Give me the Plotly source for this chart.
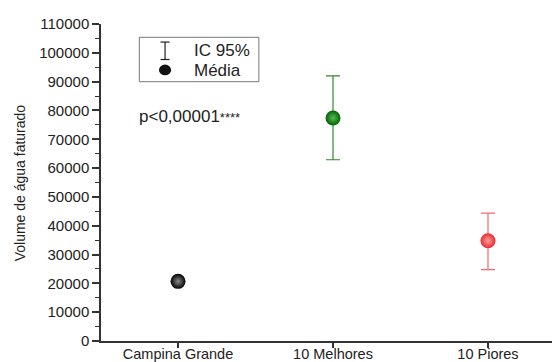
import plotly.graph_objects as go

categories = ["Campina Grande", "10 Melhores", "10 Piores"]
means = [20700, 77400, 34800]
upper = [None, 92000, 44400]
lower = [None, 62900, 24800]
center_colors = ["#8a8a8a", "#5ab85a", "#ffa0a0"]
edge_colors = ["#000000", "#006400", "#e82a30"]
bar_colors = ["#000000", "#2e8b2e", "#f06a6a"]
y_ticks = list(range(0, 110001, 10000))

FONT = "Liberation Sans, Arial, sans-serif"

fig = go.Figure()
for i, cat in enumerate(categories):
    err = None
    if upper[i] is not None:
        err = dict(type="data", symmetric=False,
                   array=[upper[i] - means[i]], arrayminus=[means[i] - lower[i]],
                   color=bar_colors[i], thickness=1.2, width=7)
    fig.add_trace(go.Scatter(
        x=[i], y=[means[i]], mode="markers",
        marker=dict(size=15, color=edge_colors[i],
                    gradient=dict(type="radial", color=center_colors[i]),
                    line=dict(width=0)),
        error_y=err, showlegend=False, hoverinfo="skip"))

fig.update_layout(
    width=552, height=362,
    margin=dict(l=101, r=0, t=24, b=21),
    paper_bgcolor="white", plot_bgcolor="white",
    font=dict(family=FONT, color="#222", size=15),
    xaxis=dict(range=[-0.497, 2.413], tickmode="array", tickvals=[0, 1, 2],
               ticktext=categories, showgrid=False, zeroline=False, automargin=False,
               showline=True, linecolor="#333", linewidth=1.5,
               ticks="outside", ticklen=5, tickwidth=1.5, tickcolor="#333",
               ticklabelstandoff=-6,
               tickfont=dict(size=14.5, family=FONT, color="#222")),
    yaxis=dict(range=[0, 110000], tickmode="array", tickvals=y_ticks, automargin=False,
               ticktext=[str(v) for v in y_ticks], showgrid=False, zeroline=False,
               showline=True, linecolor="#333", linewidth=1.5,
               ticks="outside", ticklen=7, tickwidth=1.5, tickcolor="#333",
               tickfont=dict(size=15, family=FONT, color="#222"),
               minor=dict(dtick=5000, ticks="outside", ticklen=4, tickwidth=1.2,
                          tickcolor="#333", showgrid=False)),
)

# y-axis title
fig.add_annotation(xref="paper", yref="paper", x=-0.18, y=0.5, text="Volume de água faturado",
                   textangle=-90, showarrow=False, xanchor="center", yanchor="middle",
                   font=dict(size=14, family=FONT, color="#222"))

# legend box
fig.add_shape(type="rect", xref="paper", yref="paper", x0=0.085, x1=0.350, y0=0.818, y1=0.958,
              line=dict(color="#777", width=1), fillcolor="white")
# errorbar symbol
lx = 0.142
fig.add_shape(type="line", xref="paper", yref="paper", x0=lx, x1=lx, y0=0.888, y1=0.943,
              line=dict(color="#222", width=1.2))
fig.add_shape(type="line", xref="paper", yref="paper", x0=lx - 0.01, x1=lx + 0.01, y0=0.943, y1=0.943,
              line=dict(color="#222", width=1.2))
fig.add_shape(type="line", xref="paper", yref="paper", x0=lx - 0.01, x1=lx + 0.01, y0=0.888, y1=0.888,
              line=dict(color="#222", width=1.2))
# sphere symbol
fig.add_shape(type="circle", xref="paper", yref="paper", x0=lx - 0.0135, x1=lx + 0.0135,
              y0=0.855 - 0.017, y1=0.855 + 0.017, line=dict(width=0), fillcolor="#111")
fig.add_annotation(xref="paper", yref="paper", x=0.201, y=0.916, text="IC 95%", showarrow=False,
                   xanchor="left", yanchor="middle", font=dict(size=17, family=FONT, color="#222"))
fig.add_annotation(xref="paper", yref="paper", x=0.201, y=0.853, text="Média", showarrow=False,
                   xanchor="left", yanchor="middle", font=dict(size=17, family=FONT, color="#222"))
fig.add_annotation(xref="paper", yref="paper", x=0.079, y=0.707,
                   text="p<0,00001<span style='font-size:13px'>****</span>", showarrow=False,
                   xanchor="left", yanchor="middle", font=dict(size=17, family=FONT, color="#222"))

fig.write_html("out.html")
